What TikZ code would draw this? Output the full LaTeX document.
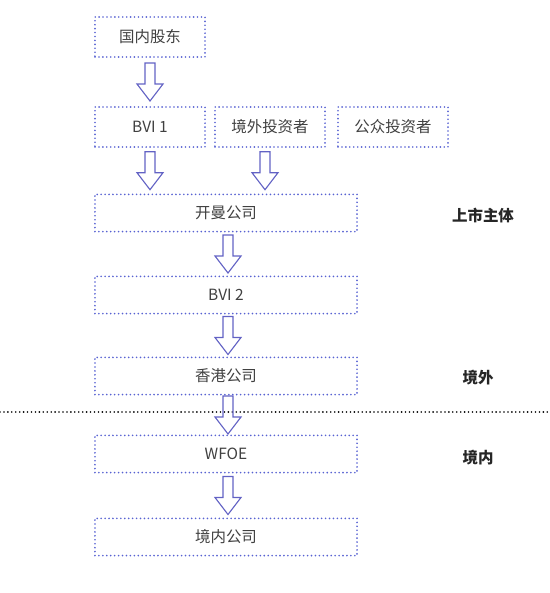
\documentclass[tikz,border=0pt]{standalone}
\usepackage{fontspec}
\setmainfont{Noto Sans CJK SC}
\usetikzlibrary{calc}
\definecolor{dotblue}{RGB}{88,98,210}
\definecolor{arrowblue}{RGB}{98,98,196}
\definecolor{textgray}{RGB}{64,64,64}
\tikzset{
    box/.style = {draw = dotblue, line width = 1.3pt, line cap = round, dash pattern = on 0pt off 2.8pt,
        text = textgray, font = \fontsize{11}{13}\selectfont, inner sep = 0pt},
    smallbox/.style = {box, minimum width = 2.75cm, minimum height = 1cm},
    widebox/.style = {box, minimum width = 6.55cm, minimum height = 0.93cm},
    tag/.style = {font = \fontsize{11}{13}\selectfont\bfseries, text = black!85},
    divider/.style = {line width = 1.3pt, line cap = round, dash pattern = on 0pt off 2.8pt},
    fatarrow/.pic = {
        \draw[arrowblue, line width = 0.8pt, line join = miter]
            (-5,-19) -- (5,-19) -- (5,2) -- (13,2) -- (0,19) -- (-13,2) -- (-5,2) -- cycle;
    }
}
\begin{document}
\begin{tikzpicture}[x = 0.025cm, y = -0.025cm]
        \useasboundingbox (0,0) rectangle (550,593);
        \node[smallbox] (holder) at (150,37) {国内股东};
        \node[smallbox] (bvione) at (150,127) {BVI 1};
        \node[smallbox] (foreign) at (270,127) {境外投资者};
        \node[smallbox] (public) at (393,127) {公众投资者};
        \node[widebox] (cayman) at (226,213) {开曼公司};
        \node[widebox] (bvitwo) at (226,295) {BVI 2};
        \node[widebox] (hk) at (226,376) {香港公司};
        \node[widebox] (wfoe) at (226,454) {WFOE};
        \node[widebox] (local) at (226,537) {境内公司};
        \begin{scope}[every node/.append style = {tag}]
            \node (listed) at (483,216) {上市主体};
            \node (offshore) at (478,378) {境外};
            \node (onshore) at (478,458) {境内};
        \end{scope}
        \coordinate (lineL) at (0,412);
        \coordinate (lineR) at (550,412);
        \draw[divider] (lineL) -- (lineR);
        \pic at ($(holder.south)!0.5!(bvione.north)$) {fatarrow};
        \pic at ($(bvione.south)!0.5!(bvione.south |- cayman.north)$) {fatarrow};
        \pic at ($(foreign.south)!0.5!(foreign.south |- cayman.north) + (-5,0)$) {fatarrow};
        \pic at ($(cayman.south)!0.5!(bvitwo.north) + (2,0)$) {fatarrow};
        \pic at ($(bvitwo.south)!0.5!(hk.north) + (2,0)$) {fatarrow};
        \pic at ($(hk.south)!0.5!(wfoe.north) + (2,0)$) {fatarrow};
        \pic at ($(wfoe.south)!0.5!(local.north) + (2,0)$) {fatarrow};
    \end{tikzpicture}
\end{document}
